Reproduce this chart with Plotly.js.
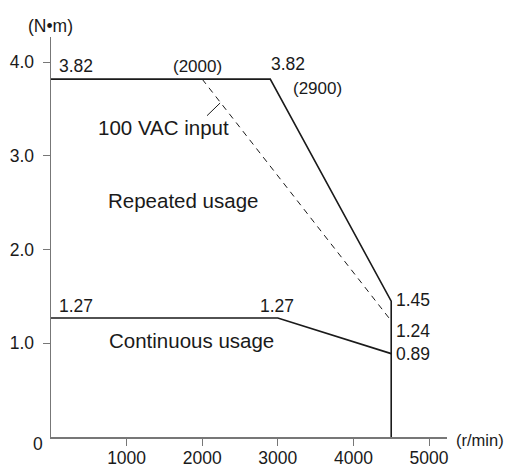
<!DOCTYPE html>
<html><head><meta charset="utf-8">
<script src="https://cdn.plot.ly/plotly-3.0.1.min.js"></script>
<style>html,body{margin:0;padding:0;background:#fff}#chart{width:509px;height:466px}</style>
</head><body><div id="chart"></div>
<script>
// Data (speed r/min, torque N·m)
const repeatedX = [0, 2900, 4500, 4500];
const repeatedY = [3.82, 3.82, 1.45, 0];
const vac100X = [2000, 4500];
const vac100Y = [3.82, 1.24];
const continuousX = [0, 3000, 4500];
const continuousY = [1.27, 1.27, 0.89];
const xTicks = [1000, 2000, 3000, 4000, 5000];
const yTicks = [1, 2, 3, 4];
const yTickText = ["1.0", "2.0", "3.0", "4.0"];

const FONT = "Liberation Sans, Arial, Helvetica, sans-serif";
const INK = "#1a1a1a";
const lineStyle = {color: INK, width: 1.6};

const traces = [
  {x: repeatedX, y: repeatedY, mode: "lines", line: lineStyle, hoverinfo: "none"},
  {x: vac100X, y: vac100Y, mode: "lines", line: {color: INK, width: 1, dash: "6px,5px"}, hoverinfo: "none"},
  {x: continuousX, y: continuousY, mode: "lines", line: lineStyle, hoverinfo: "none"}
];

function ann(x, y, text, xs, ys, size, anchor) {
  return {x: x, y: y, xref: "x", yref: "y", text: text, showarrow: false,
    xshift: xs, yshift: ys, xanchor: anchor || "left", yanchor: "middle",
    font: {family: FONT, size: size || 17.5, color: INK}};
}
function label(xp, y, text) {
  return {x: xp, y: y, xref: "paper", yref: "y", text: text, showarrow: false,
    xanchor: "left", yanchor: "middle", font: {family: FONT, size: 20.5, color: INK}};
}

const annotations = [
  ann(repeatedX[0], repeatedY[0], repeatedY[0].toFixed(2), 6, 13),
  ann(vac100X[0], vac100Y[0], "(" + vac100X[0] + ")", -5, 13, 17, "center"),
  ann(repeatedX[1], repeatedY[1], repeatedY[1].toFixed(2), -1, 15),
  ann(repeatedX[1], repeatedY[1], "(" + repeatedX[1] + ")", 21, -9, 17),
  ann(repeatedX[2], repeatedY[2], repeatedY[2].toFixed(2), 3, 1),
  ann(vac100X[1], vac100Y[1], vac100Y[1].toFixed(2), 3, -10),
  ann(continuousX[2], continuousY[2], continuousY[2].toFixed(2), 3, 0),
  ann(continuousX[0], continuousY[0], continuousY[0].toFixed(2), 6, 12),
  ann(continuousX[1], continuousY[1], continuousY[1].toFixed(2), -1, 12, 17.5, "center"),
  {x: 0, y: 0, xref: "x", yref: "y", text: "0", showarrow: false, xshift: -13, yshift: -7,
    xanchor: "center", yanchor: "middle", font: {family: FONT, size: 17.5, color: INK}},
  {x: 1, y: 0, xref: "paper", yref: "y", text: "(r/min)", showarrow: false, xshift: 7, yshift: -3,
    xanchor: "left", yanchor: "middle", font: {family: FONT, size: 16.5, color: INK}},
  {x: 0, y: 1, xref: "x", yref: "paper", text: "(N•m)", showarrow: false, xshift: -1, yshift: 11,
    xanchor: "center", yanchor: "middle", font: {family: FONT, size: 17.5, color: INK}},
  label(0.114, 3.30, "100 VAC input"),
  label(0.140, 2.53, "Repeated usage"),
  label(0.142, 1.03, "Continuous usage")
];

const shapes = [
  {type: "line", xref: "paper", yref: "y", x0: 0.394, y0: 3.43, x1: 0.427, y1: 3.565,
   line: {color: INK, width: 1}}
];

const layout = {
  width: 509, height: 466,
  margin: {l: 51, r: 62, t: 37, b: 29, pad: 0},
  paper_bgcolor: "#fff", plot_bgcolor: "#fff",
  showlegend: false,
  font: {family: FONT, size: 17.5, color: INK},
  xaxis: {range: [0, 5238], tickvals: xTicks, ticks: "outside", ticklen: 7, tickcolor: "#777",
    showline: true, linecolor: "#777", linewidth: 1.5, showgrid: false, zeroline: false,
    ticklabelstandoff: -3, tickfont: {family: FONT, size: 17.5, color: INK}, fixedrange: true},
  yaxis: {range: [0, 4.27], tickvals: yTicks, ticktext: yTickText, ticks: "outside", ticklen: 7,
    tickcolor: "#777", showline: true, linecolor: "#777", linewidth: 1.5, showgrid: false, zeroline: false,
    ticklabelstandoff: 5, tickfont: {family: FONT, size: 17.5, color: INK}, fixedrange: true},
  annotations: annotations,
  shapes: shapes
};

Plotly.newPlot("chart", traces, layout, {staticPlot: true, displayModeBar: false});
</script></body></html>
